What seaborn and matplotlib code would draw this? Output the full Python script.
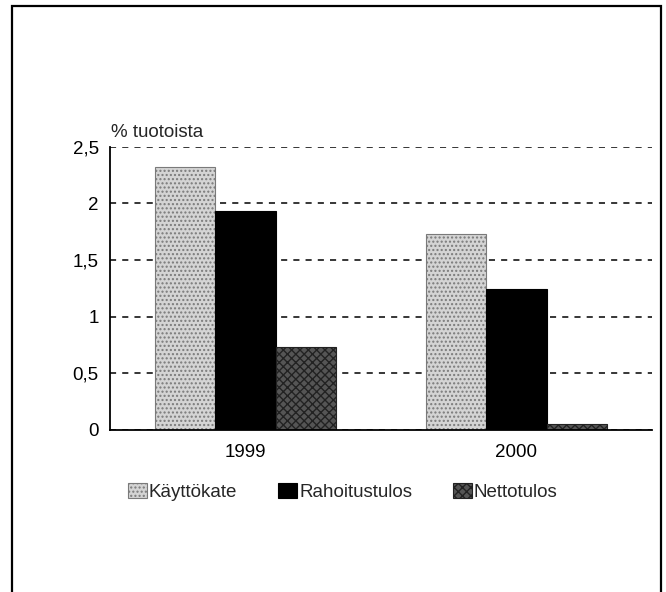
import matplotlib.pyplot as plt
import pandas as pd
import seaborn as sns
from matplotlib.patches import Patch, Rectangle

YEARS = ["1999", "2000"]
SERIES = ["Käyttökate", "Rahoitustulos", "Nettotulos"]
KAYTTOKATE = [2.32, 1.73]
RAHOITUSTULOS = [1.93, 1.24]
NETTOTULOS = [0.73, 0.05]
Y_TICKS = [0, 0.5, 1, 1.5, 2, 2.5]
Y_TICK_LABELS = ["0", "0,5", "1", "1,5", "2", "2,5"]

COLORS = {"Käyttökate": "#d4d4d4", "Rahoitustulos": "#000000", "Nettotulos": "#555555"}
HATCHES = {"Käyttökate": "....", "Rahoitustulos": "", "Nettotulos": "xxxx"}
EDGES = {"Käyttökate": "#7a7a7a", "Rahoitustulos": "#000000", "Nettotulos": "#222222"}
FONT_SIZE = 13.5


def build_frame() -> pd.DataFrame:
    rows = []
    for name, values in zip(SERIES, [KAYTTOKATE, RAHOITUSTULOS, NETTOTULOS]):
        for year, value in zip(YEARS, values):
            rows.append({"Vuosi": year, "Sarja": name, "Arvo": value})
    return pd.DataFrame(rows)


df = build_frame()

sns.set_style("white")
plt.rcParams["font.family"] = ["Liberation Sans", "DejaVu Sans"]

fig = plt.figure(figsize=(6.66, 5.92), dpi=100)
ax = fig.add_axes([0.165, 0.274, 0.814, 0.478])

sns.barplot(
    data=df, x="Vuosi", y="Arvo", hue="Sarja", hue_order=SERIES,
    palette=COLORS, width=0.667, saturation=1, legend=False, ax=ax,
)

# patterns per series (containers follow hue order)
for name, container in zip(SERIES, ax.containers):
    for bar in container:
        bar.set_hatch(HATCHES[name])
        bar.set_edgecolor(EDGES[name])
        bar.set_linewidth(0.8)

ax.set_xlim(-0.5, 1.5)
ax.set_ylim(0, 2.5)
ax.set_yticks(Y_TICKS)
ax.set_yticklabels(Y_TICK_LABELS)
ax.set_xlabel("")
ax.set_ylabel("")
ax.tick_params(axis="both", length=0, labelsize=FONT_SIZE, labelcolor="black")
ax.tick_params(axis="x", pad=10)
ax.tick_params(axis="y", pad=8)

ax.set_axisbelow(True)
ax.yaxis.grid(True, color="black", linestyle=(0, (4, 4)), linewidth=1.1)
ax.xaxis.grid(False)
for side in ["top", "right"]:
    ax.spines[side].set_visible(False)
for side in ["left", "bottom"]:
    ax.spines[side].set_color("black")
    ax.spines[side].set_linewidth(1.3)

fig.text(0.166, 1 - 132 / 592, "% tuotoista", ha="left", va="center", fontsize=FONT_SIZE)

handles = [
    Patch(facecolor=COLORS[s], edgecolor=EDGES[s], hatch=HATCHES[s], linewidth=0.8)
    for s in SERIES
]
fig.legend(
    handles, SERIES, loc="center", bbox_to_anchor=(0.515, 1 - 492 / 592), ncol=3,
    frameon=False, fontsize=FONT_SIZE, handlelength=1.0, handleheight=0.9,
    handletextpad=0.1, columnspacing=2.2,
)

# outer frame of the scanned figure
fig.patches.append(Rectangle(
    (12 / 666, -0.02), (661 - 12) / 666, 1.02 - 6 / 592,
    transform=fig.transFigure, fill=False, edgecolor="black", linewidth=1.6,
))

fig.savefig("out.png", dpi=100)
